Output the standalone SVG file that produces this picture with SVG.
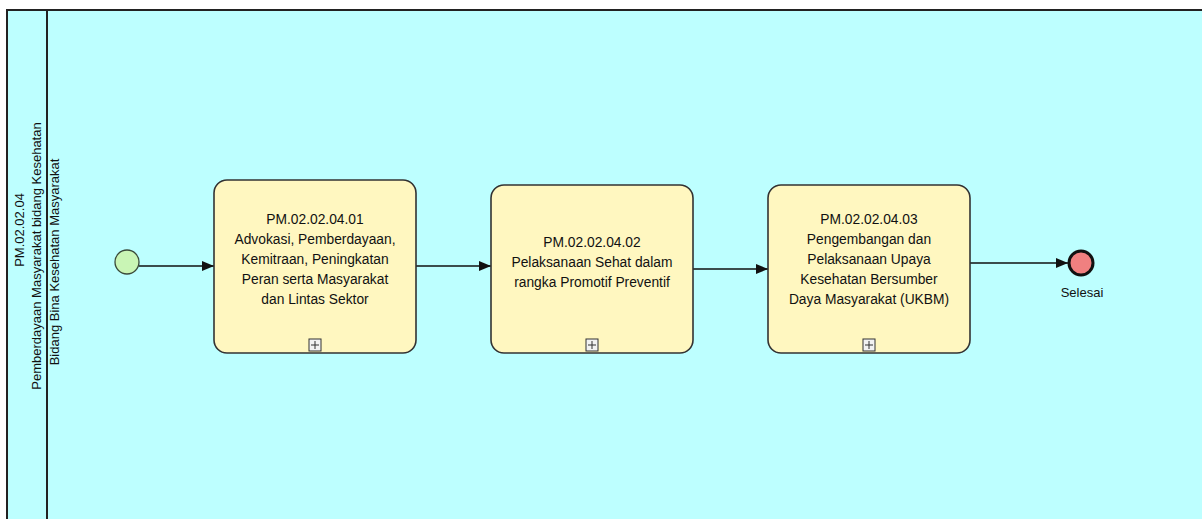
<svg xmlns="http://www.w3.org/2000/svg" width="1202" height="519" viewBox="0 0 1202 519">
<defs>
<style>
.pool{fill:#BDFFFF;stroke:#222;stroke-width:2}
.task{fill:#FFF7C0;stroke:#333;stroke-width:1.6}
.t{font-family:"Liberation Sans",Arial,sans-serif;font-size:13px;fill:#111;text-anchor:middle}
.b{font-size:13.8px}
.conn{stroke:#111;stroke-width:1.3;fill:none;marker-end:url(#arr)}
.mk{fill:#f2f2f2;stroke:#333;stroke-width:1}
</style>
<marker id="arr" viewBox="0 0 12 10" refX="12" refY="5" markerWidth="12" markerHeight="10" markerUnits="userSpaceOnUse" orient="auto">
<path d="M0,0 L12,5 L0,10 Z" fill="#111"/>
</marker>
</defs>
<rect width="1202" height="519" fill="#fff"/>
<g id="pool">
<rect class="pool" x="7" y="10" width="1200" height="520"/>
<line x1="47" y1="10" x2="47" y2="519" stroke="#222" stroke-width="2"/>
<text class="t" transform="translate(24,230) rotate(-90)">PM.02.02.04</text>
<text class="t" transform="translate(41,256) rotate(-90)">Pemberdayaan Masyarakat bidang Kesehatan</text>
<text class="t" transform="translate(59,262) rotate(-90)">Bidang Bina Kesehatan Masyarakat</text>
</g>
<g id="connectors">
<line class="conn" x1="139" y1="266" x2="214" y2="266"/>
<line class="conn" x1="416" y1="266" x2="491" y2="266"/>
<line class="conn" x1="693" y1="269" x2="768" y2="269"/>
<line class="conn" x1="970" y1="263" x2="1068" y2="263"/>
</g>
<g id="start">
<circle cx="127" cy="262" r="12" fill="#C9F5B5" stroke="#3a4a3a" stroke-width="1.3"/>
</g>
<g id="task1">
<rect class="task" x="214" y="180" width="202" height="173" rx="13"/>
<text class="t b" x="315" y="224">PM.02.02.04.01</text>
<text class="t b" x="315" y="244">Advokasi, Pemberdayaan,</text>
<text class="t b" x="315" y="264">Kemitraan, Peningkatan</text>
<text class="t b" x="315" y="284">Peran serta Masyarakat</text>
<text class="t b" x="315" y="304">dan Lintas Sektor</text>
<rect class="mk" x="309" y="339" width="12" height="12"/>
<path d="M315,341 V349 M311,345 H319" stroke="#333" stroke-width="1"/>
</g>
<g id="task2">
<rect class="task" x="491" y="185" width="202" height="168" rx="13"/>
<text class="t b" x="592" y="247">PM.02.02.04.02</text>
<text class="t b" x="592" y="267">Pelaksanaan Sehat dalam</text>
<text class="t b" x="592" y="287">rangka Promotif Preventif</text>
<rect class="mk" x="586" y="339" width="12" height="12"/>
<path d="M592,341 V349 M588,345 H596" stroke="#333" stroke-width="1"/>
</g>
<g id="task3">
<rect class="task" x="768" y="185" width="202" height="168" rx="13"/>
<text class="t b" x="869" y="224">PM.02.02.04.03</text>
<text class="t b" x="869" y="244">Pengembangan dan</text>
<text class="t b" x="869" y="264">Pelaksanaan Upaya</text>
<text class="t b" x="869" y="284">Kesehatan Bersumber</text>
<text class="t b" x="869" y="304">Daya Masyarakat (UKBM)</text>
<rect class="mk" x="863" y="339" width="12" height="12"/>
<path d="M869,341 V349 M865,345 H873" stroke="#333" stroke-width="1"/>
</g>
<g id="end">
<circle cx="1081" cy="263" r="12" fill="#F08080" stroke="#111" stroke-width="3"/>
<text class="t" x="1082" y="297">Selesai</text>
</g>
</svg>
